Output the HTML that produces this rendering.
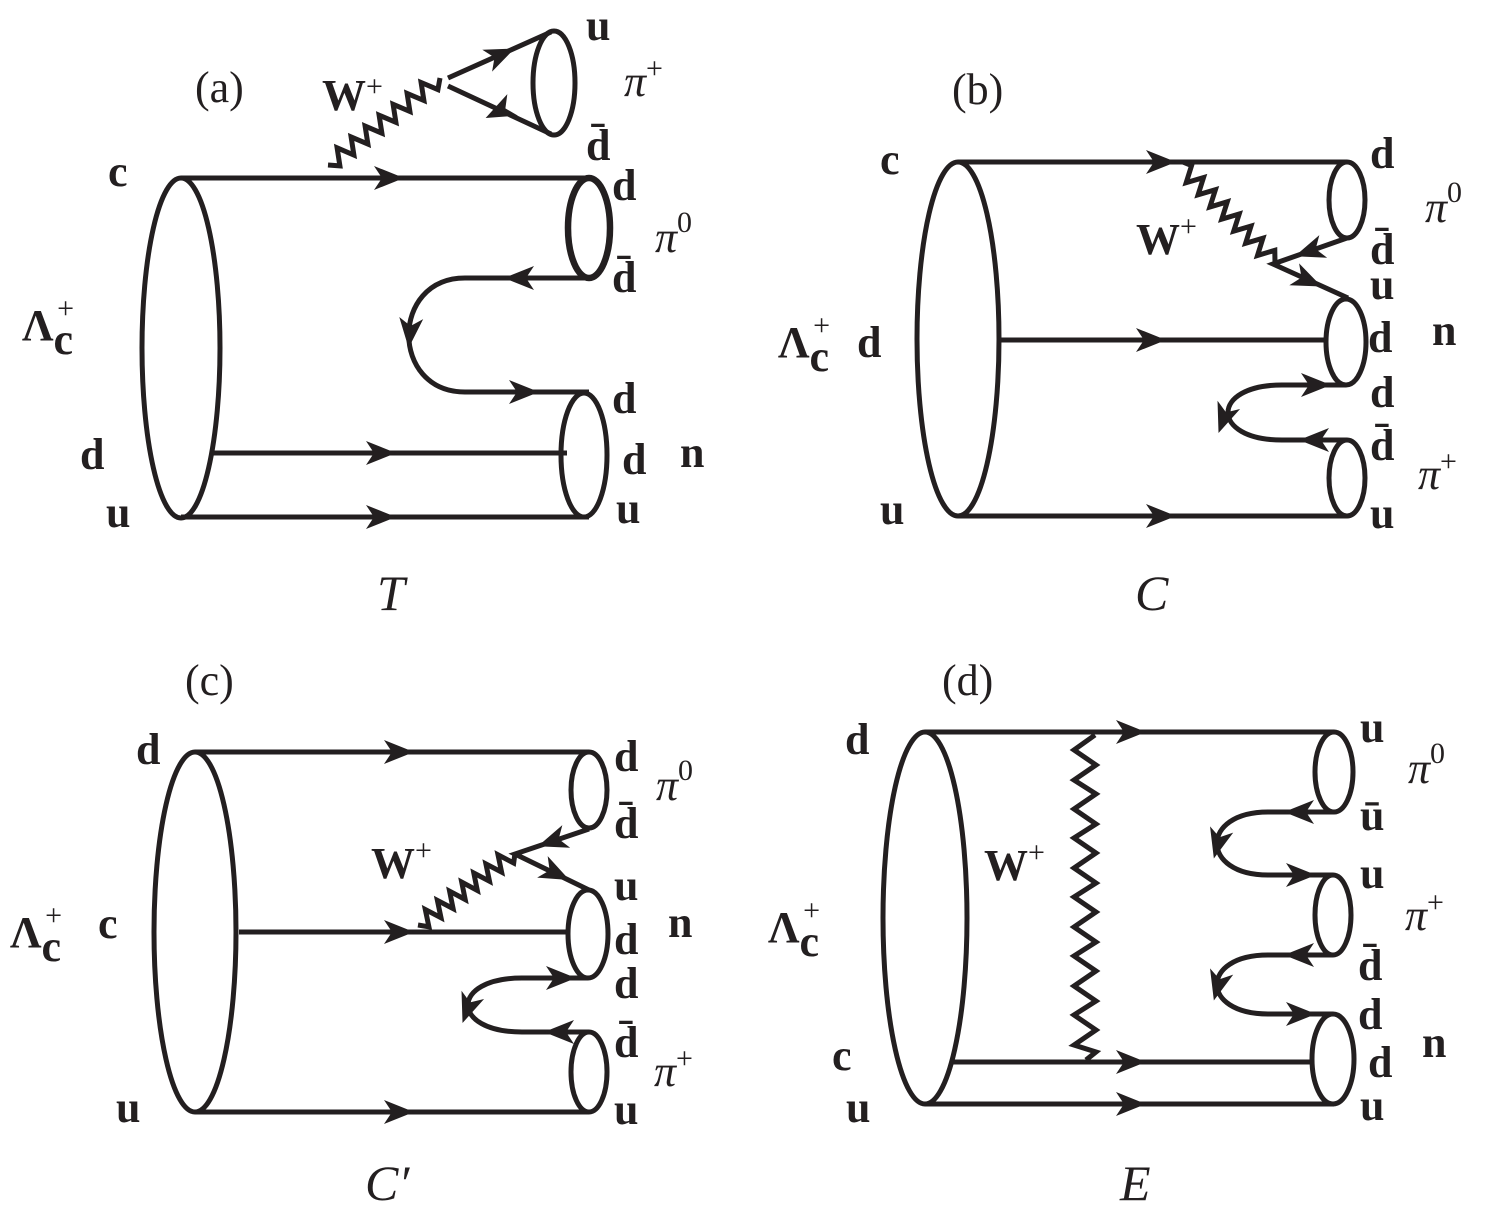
<!DOCTYPE html>
<html><head><meta charset="utf-8"><style>
html,body{margin:0;padding:0;background:#fff}
svg{display:block}
.q{font-family:"Liberation Serif",serif;font-weight:bold;font-size:44px;fill:#231f20}
.p{font-family:"Liberation Serif",serif;font-style:italic;font-size:44px;fill:#231f20}
.s{font-family:"Liberation Serif",serif;font-size:30px;fill:#231f20;font-style:normal;font-weight:normal}
.l{font-family:"Liberation Serif",serif;font-size:44px;fill:#231f20}
.t{font-family:"Liberation Serif",serif;font-style:italic;font-size:50px;fill:#231f20}
</style></head><body>
<svg width="1498" height="1206" viewBox="0 0 1498 1206" xmlns="http://www.w3.org/2000/svg">
<defs><path id="ar" d="M16,0 L-14,-12 L-6,0 L-14,12Z" fill="#231f20"/></defs>
<g fill="none" stroke="#231f20" stroke-width="5" stroke-linejoin="miter">
<!-- (a) -->
<ellipse cx="181" cy="348" rx="39" ry="170"/>
<path d="M181,178 H589 M212,453 H567 M181,517 H589"/>
<ellipse cx="589" cy="228" rx="21" ry="50" stroke-width="6.5"/>
<ellipse cx="584" cy="455" rx="23" ry="62"/>
<path d="M589,278 H465 C390,278 390,392 465,392 H589"/>
<polyline points="328,165 339.9,165.9 337.1,147.8 353.9,155 351.1,136.9 367.9,144.1 365.1,126.1 381.9,133.2 379.1,115.2 395.9,122.3 393.1,104.3 409.9,111.4 407.1,93.4 423.9,100.5 421.1,82.5 437.9,89.6 440,78"/>
<path d="M448,78 L551,32 M551,134 L448,86"/>
<ellipse cx="554" cy="83" rx="21" ry="52"/>
<!-- (b) -->
<ellipse cx="958" cy="339" rx="41" ry="177"/>
<path d="M958,162 H1347 M1000,340 H1327 M958,516 H1347"/>
<ellipse cx="1347" cy="200" rx="18" ry="38"/>
<ellipse cx="1346" cy="342" rx="20" ry="43"/>
<ellipse cx="1347" cy="478" rx="18" ry="38"/>
<polyline points="1183,162 1191.6,165.5 1186.2,182.7 1203.5,177.6 1198.1,194.8 1215.4,189.7 1209.9,207 1227.3,201.8 1221.8,219.1 1239.2,214 1233.7,231.2 1251,226.1 1245.6,243.3 1262.9,238.2 1257.5,255.5 1274.8,250.3 1275,263"/>
<path d="M1347,238 L1273,264 L1348,298"/>
<path d="M1346,385 H1282 C1210,385 1210,440 1282,440 H1347"/>
<!-- (c) -->
<ellipse cx="195" cy="932" rx="41" ry="180"/>
<path d="M195,752 H589 M239,932 H569 M195,1112 H589"/>
<ellipse cx="589" cy="790" rx="18" ry="38"/>
<ellipse cx="588" cy="934" rx="20" ry="44"/>
<ellipse cx="589" cy="1072" rx="18" ry="40"/>
<polyline points="418,925 428.9,926.8 425.3,909.5 441,917.7 437.4,900.4 453.1,908.6 449.6,891.2 465.2,899.5 461.7,882.1 477.3,890.4 473.8,873 489.5,881.2 485.9,863.9 501.6,872.1 498,854.8 513.7,863 515,853"/>
<path d="M589,829 L515,854 L589,890"/>
<path d="M588,978 H522 C450,978 450,1032 522,1032 H589"/>
<!-- (d) -->
<ellipse cx="925" cy="918" rx="42" ry="186"/>
<path d="M925,732 H1334 M953,1062 H1312 M925,1104 H1334"/>
<ellipse cx="1334" cy="772" rx="19" ry="40"/>
<ellipse cx="1333" cy="915" rx="18" ry="40"/>
<ellipse cx="1333" cy="1059" rx="21" ry="45"/>
<polyline points="1095,735 1074,750 1096,765 1074,780 1096,794 1074,809 1096,824 1074,838 1096,853 1074,868 1096,883 1074,897 1096,912 1074,927 1096,942 1074,956 1096,971 1074,986 1096,1001 1074,1015 1096,1030 1074,1045 1096,1052 1086,1060"/>
<path d="M1334,812 H1268 C1200,812 1200,875 1268,875 H1333"/>
<path d="M1333,955 H1268 C1200,955 1200,1014 1268,1014 H1333"/>
</g>
<!-- arrows -->
<use href="#ar" transform="translate(388,178)"/>
<use href="#ar" transform="translate(380,453)"/>
<use href="#ar" transform="translate(380,517)"/>
<use href="#ar" transform="translate(520,278) rotate(180)"/>
<use href="#ar" transform="translate(410,332) rotate(95)"/>
<use href="#ar" transform="translate(523,392)"/>
<use href="#ar" transform="translate(500,55) rotate(-24)"/>
<use href="#ar" transform="translate(500,111) rotate(154)"/>
<use href="#ar" transform="translate(1160,162)"/>
<use href="#ar" transform="translate(1150,340)"/>
<use href="#ar" transform="translate(1160,516)"/>
<use href="#ar" transform="translate(1310,251) rotate(161)"/>
<use href="#ar" transform="translate(1307,280) rotate(24)"/>
<use href="#ar" transform="translate(1315,385)"/>
<use href="#ar" transform="translate(1224,418) rotate(110)"/>
<use href="#ar" transform="translate(1315,440) rotate(180)"/>
<use href="#ar" transform="translate(398,752)"/>
<use href="#ar" transform="translate(398,932)"/>
<use href="#ar" transform="translate(398,1112)"/>
<use href="#ar" transform="translate(553,841) rotate(161)"/>
<use href="#ar" transform="translate(555,873) rotate(26)"/>
<use href="#ar" transform="translate(560,978)"/>
<use href="#ar" transform="translate(468,1008) rotate(110)"/>
<use href="#ar" transform="translate(560,1032) rotate(180)"/>
<use href="#ar" transform="translate(1130,732)"/>
<use href="#ar" transform="translate(1130,1062)"/>
<use href="#ar" transform="translate(1130,1104)"/>
<use href="#ar" transform="translate(1300,812) rotate(180)"/>
<use href="#ar" transform="translate(1218,843) rotate(105)"/>
<use href="#ar" transform="translate(1300,875)"/>
<use href="#ar" transform="translate(1300,955) rotate(180)"/>
<use href="#ar" transform="translate(1218,985) rotate(105)"/>
<use href="#ar" transform="translate(1300,1014)"/>
<!-- labels (a) -->
<text class="l" x="195" y="102">(a)</text>
<text class="q" x="322" y="110">W<tspan class="s" dy="-14" font-size="28">+</tspan></text>
<text class="q" x="586" y="40">u</text>
<text class="p" x="624" y="96">π<tspan class="s" dy="-18" font-size="34">+</tspan></text>
<text class="q" x="586" y="160">d̄</text>
<text class="q" x="108" y="186">c</text>
<text class="q" x="612" y="200">d</text>
<text class="p" x="655" y="252">π<tspan class="s" dy="-20" font-size="36">0</tspan></text>
<text class="q" x="612" y="292">d̄</text>
<text class="q" x="22" y="340">Λ<tspan class="q" font-size="28" dy="14">c</tspan><tspan class="s" font-size="32" dx="-16" dy="-36">+</tspan></text>
<text class="q" x="612" y="413">d</text>
<text class="q" x="622" y="474">d</text>
<text class="q" x="680" y="467">n</text>
<text class="q" x="80" y="469">d</text>
<text class="q" x="106" y="527">u</text>
<text class="q" x="616" y="523">u</text>
<text class="t" x="377" y="610">T</text>
<!-- (b) -->
<text class="l" x="952" y="104">(b)</text>
<text class="q" x="880" y="174">c</text>
<text class="q" x="1370" y="168">d</text>
<text class="p" x="1425" y="222">π<tspan class="s" dy="-20" font-size="36">0</tspan></text>
<text class="q" x="1136" y="254">W<tspan class="s" dy="-18" font-size="32">+</tspan></text>
<text class="q" x="1370" y="264">d̄</text>
<text class="q" x="1370" y="299">u</text>
<text class="q" x="778" y="357">Λ<tspan class="q" font-size="28" dy="14">c</tspan><tspan class="s" font-size="32" dx="-16" dy="-36">+</tspan></text>
<text class="q" x="857" y="357">d</text>
<text class="q" x="1368" y="352">d</text>
<text class="q" x="1432" y="345">n</text>
<text class="q" x="1370" y="407">d</text>
<text class="q" x="1370" y="460">d̄</text>
<text class="p" x="1418" y="489">π<tspan class="s" dy="-18" font-size="34">+</tspan></text>
<text class="q" x="880" y="524">u</text>
<text class="q" x="1370" y="528">u</text>
<text class="t" x="1135" y="610">C</text>
<!-- (c) -->
<text class="l" x="185" y="695">(c)</text>
<text class="q" x="136" y="764">d</text>
<text class="q" x="614" y="771">d</text>
<text class="p" x="656" y="800">π<tspan class="s" dy="-20" font-size="36">0</tspan></text>
<text class="q" x="614" y="838">d̄</text>
<text class="q" x="371" y="878">W<tspan class="s" dy="-18" font-size="32">+</tspan></text>
<text class="q" x="614" y="900">u</text>
<text class="q" x="10" y="947">Λ<tspan class="q" font-size="28" dy="14">c</tspan><tspan class="s" font-size="32" dx="-16" dy="-36">+</tspan></text>
<text class="q" x="98" y="938">c</text>
<text class="q" x="614" y="954">d</text>
<text class="q" x="668" y="937">n</text>
<text class="q" x="614" y="998">d</text>
<text class="q" x="614" y="1057">d̄</text>
<text class="p" x="654" y="1086">π<tspan class="s" dy="-18" font-size="34">+</tspan></text>
<text class="q" x="116" y="1122">u</text>
<text class="q" x="614" y="1124">u</text>
<text class="t" x="365" y="1200">C′</text>
<!-- (d) -->
<text class="l" x="942" y="695">(d)</text>
<text class="q" x="845" y="754">d</text>
<text class="q" x="1360" y="742">u</text>
<text class="p" x="1408" y="783">π<tspan class="s" dy="-20" font-size="36">0</tspan></text>
<text class="q" x="1360" y="830">ū</text>
<text class="q" x="984" y="880">W<tspan class="s" dy="-18" font-size="32">+</tspan></text>
<text class="q" x="1360" y="888">u</text>
<text class="p" x="1405" y="930">π<tspan class="s" dy="-18" font-size="34">+</tspan></text>
<text class="q" x="768" y="942">Λ<tspan class="q" font-size="28" dy="14">c</tspan><tspan class="s" font-size="32" dx="-16" dy="-36">+</tspan></text>
<text class="q" x="1358" y="980">d̄</text>
<text class="q" x="1358" y="1029">d</text>
<text class="q" x="1422" y="1057">n</text>
<text class="q" x="832" y="1070">c</text>
<text class="q" x="1368" y="1077">d</text>
<text class="q" x="846" y="1122">u</text>
<text class="q" x="1360" y="1120">u</text>
<text class="t" x="1120" y="1200">E</text>
</svg>
</body></html>
